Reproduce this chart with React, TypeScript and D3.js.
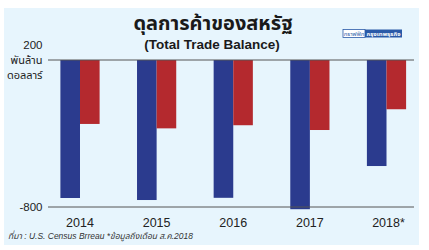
import React from "react";
import * as d3 from "d3";

const years = ["2014", "2015", "2016", "2017", "2018*"];
const goodsBalance = [-751, -762, -750, -812, -577];
const chinaBalance = [-348, -372, -355, -381, -268];
const series = ["goods", "china"];
const seriesColors = ["#2b3b8e", "#b4292e"];
const yTickLabels = [
  { value: 0, label: "200" },
  { value: -800, label: "-800" },
];
const title = "ดุลการค้าของสหรัฐ";
const subtitle = "(Total Trade Balance)";
const unitLines = ["พันล้าน", "ดอลลาร์"];
const source = "ที่มา : U.S. Census Brreau *ข้อมูลถึงเดือน ส.ค.2018";

const W = 429;
const H = 250;

export default function App() {
  const x = d3.scalePoint<string>().domain(years).range([80, 386.5]);
  const sub = d3.scaleBand<string>().domain(series).range([-19.6, 19.6]);
  const y = d3.scaleLinear().domain([0, -800]).range([60, 207]);
  const lineX0 = 48;
  const lineX1 = 414;
  const font = "Arial, 'Liberation Sans', 'Noto Sans Thai', sans-serif";
  const data = [goodsBalance, chinaBalance];

  return (
    <svg width={W} height={H} style={{ position: "absolute", left: 0, top: 0 }} fontFamily={font}>
      <rect x={0} y={0} width={W} height={H} fill="#ffffff" />
      <rect x={4} y={8} width={415} height={237} fill="#e7f5fd" />
      <text x={213} y={30} textAnchor="middle" fontSize={20} fontWeight="bold" fill="#1a1a1a">
        {title}
      </text>
      <text x={212} y={49} textAnchor="middle" fontSize={13.5} fontWeight="bold" fill="#1a1a1a">
        {subtitle}
      </text>
      <g>
        <rect x={343} y={29.5} width={22} height={8} fill="#ffffff" stroke="#2a5aa8" strokeWidth={0.8} />
        <text x={354} y={36} textAnchor="middle" fontSize={6} fill="#2a5aa8">กราฟฟิก</text>
        <rect x={365} y={29.5} width={37} height={8} fill="#2a5aa8" />
        <text x={383.5} y={36} textAnchor="middle" fontSize={6} fontWeight="bold" fill="#ffffff">กรุงเทพธุรกิจ</text>
      </g>
      {data.map((vals, si) =>
        vals.map((v, i) => (
          <rect
            key={`${si}-${i}`}
            x={(x(years[i]) as number) + (sub(series[si]) as number)}
            y={y(0)}
            width={sub.bandwidth()}
            height={y(v) - y(0)}
            fill={seriesColors[si]}
          />
        ))
      )}
      {yTickLabels.map((t) => (
        <line key={t.label} x1={lineX0} x2={lineX1} y1={y(t.value)} y2={y(t.value)} stroke="#555" strokeWidth={1} />
      ))}
      <text x={42.5} y={y(0) - 11} textAnchor="end" fontSize={11.5} fill="#222">{yTickLabels[0].label}</text>
      <text x={42.5} y={y(0) + 4} textAnchor="end" fontSize={11} fill="#222">{unitLines[0]}</text>
      <text x={42.5} y={y(0) + 19} textAnchor="end" fontSize={11} fill="#222">{unitLines[1]}</text>
      <text x={42.5} y={y(-800) + 4} textAnchor="end" fontSize={11.5} fill="#222">{yTickLabels[1].label}</text>
      {years.map((yr) => (
        <text key={yr} x={(x(yr) as number) + (yr.endsWith("*") ? 2 : 0)} y={227} textAnchor="middle" fontSize={12.5} fill="#222">
          {yr}
        </text>
      ))}
      <text x={8} y={239} fontSize={8.5} fontStyle="italic" fill="#333" textLength={185} lengthAdjust="spacingAndGlyphs">{source}</text>
    </svg>
  );
}
